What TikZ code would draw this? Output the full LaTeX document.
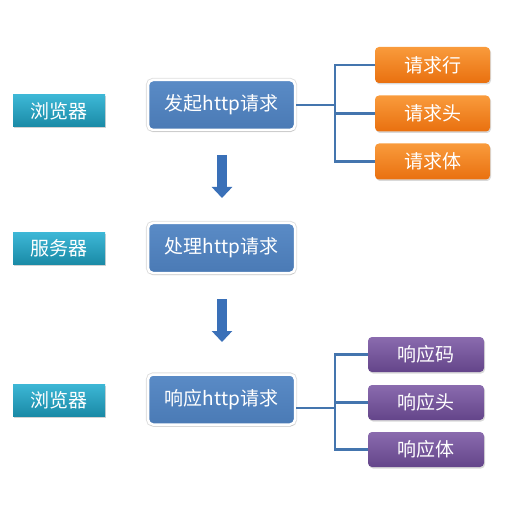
\documentclass[tikz,border=0pt]{standalone}
\usepackage{fontspec}
\newfontfamily\cjk{Noto Sans CJK SC}
\usetikzlibrary{shadows,arrows.meta}
\definecolor{tealtop}{HTML}{3DB7D6}
\definecolor{tealbot}{HTML}{1A8AA6}
\definecolor{bluetop}{HTML}{5A8BC6}
\definecolor{bluebot}{HTML}{4A7AB5}
\definecolor{orgtop}{HTML}{F99B3C}
\definecolor{orgbot}{HTML}{E9700F}
\definecolor{purtop}{HTML}{8A6BAE}
\definecolor{purbot}{HTML}{64458A}
\definecolor{connc}{HTML}{4475AE}
\definecolor{arrc}{HTML}{3A70B8}
\tikzset{
  lbl/.style={font=\cjk\fontsize{19}{22}\selectfont, text=white, inner sep=0pt},
  rolebox/.style={lbl, minimum width=92pt, minimum height=32pt,
    top color=tealtop, bottom color=tealbot, drop shadow={shadow xshift=1pt, shadow yshift=-1.5pt, opacity=0.35}},
  stepbox/.style={lbl, minimum width=147pt, minimum height=50pt, rounded corners=5pt,
    top color=bluetop, bottom color=bluebot, draw=white, line width=2.5pt,
    preaction={draw=black!13, line width=4.3pt},
    drop shadow={shadow xshift=0.5pt, shadow yshift=-2pt, opacity=0.25}},
  orgbox/.style={lbl, minimum width=115pt, minimum height=36pt, rounded corners=4pt,
    top color=orgtop, bottom color=orgbot, drop shadow={shadow xshift=1pt, shadow yshift=-1.5pt, opacity=0.3}},
  purbox/.style={lbl, minimum width=116pt, minimum height=35pt, rounded corners=4pt,
    top color=purtop, bottom color=purbot, drop shadow={shadow xshift=1pt, shadow yshift=-1.5pt, opacity=0.3}},
  conn/.style={draw=connc, line width=2.4pt},
  flowarrow/.style={draw=arrc, line width=10pt, -{Triangle[width=20pt,length=11pt]}},
}
\begin{document}
\begin{tikzpicture}[x=1pt,y=-1pt]
\useasboundingbox (0,0) rectangle (514,513);
% role boxes
\node[rolebox] (b1) at (59,111) {浏览器};
\node[rolebox] (sv) at (59,248.5) {服务器};
\node[rolebox] (b2) at (59,400) {浏览器};
% step boxes
\node[stepbox] (req) at (221.5,105) {发起http请求};
\node[stepbox] (proc) at (221.5,248) {处理http请求};
\node[stepbox] (resp) at (221.5,399.5) {响应http请求};
% request parts
\node[orgbox] (r1) at (432.5,65) {请求行};
\node[orgbox] (r2) at (432.5,113.5) {请求头};
\node[orgbox] (r3) at (432.5,161.5) {请求体};
% response parts
\node[purbox] (s1) at (426,354.5) {响应码};
\node[purbox] (s2) at (426,402.5) {响应头};
\node[purbox] (s3) at (426,449.5) {响应体};
% connectors
\coordinate (j1) at (335,105);
\draw[conn] (req.east) -- (j1);
\draw[conn] (r1.west) -| (j1) |- (r3.west);
\draw[conn] (r2.west) -- (r2.west -| j1);
\coordinate (j2) at (335,408);
\draw[conn] (resp.east |- j2) -- (j2);
\draw[conn] (s1.west) -| (j2) |- (s3.west);
\draw[conn] (s2.west) -- (s2.west -| j2);
% flow arrows
\coordinate (a1s) at (222,155);
\coordinate (a1e) at (222,198);
\coordinate (a2s) at (222,299);
\coordinate (a2e) at (222,342);
\draw[flowarrow] (a1s) -- (a1e);
\draw[flowarrow] (a2s) -- (a2e);
\end{tikzpicture}
\end{document}
